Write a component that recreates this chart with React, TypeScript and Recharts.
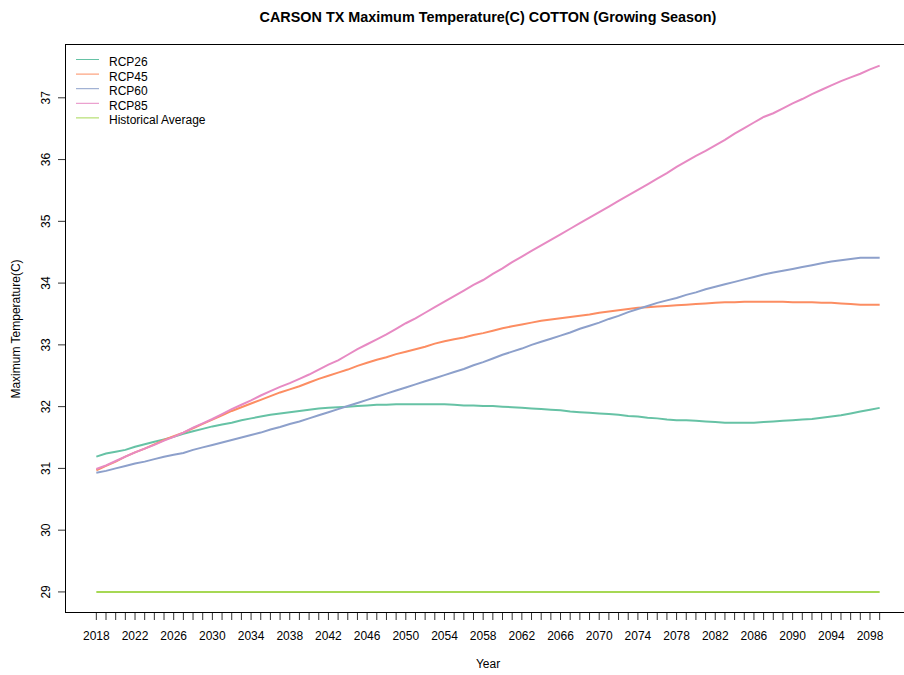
import { LineChart, Line, XAxis, YAxis } from 'recharts'

// growing-season max temperature, annual 2018-2099
const years = Array.from({ length: 82 }, (_, i) => 2018 + i)
const labeledYears = [2018, 2022, 2026, 2030, 2034, 2038, 2042, 2046, 2050, 2054, 2058, 2062, 2066, 2070, 2074, 2078, 2082, 2086, 2090, 2094, 2098]
const yTicks = [29, 30, 31, 32, 33, 34, 35, 36, 37]

const rcp26 = [
  31.19, 31.24, 31.27, 31.3, 31.35, 31.39, 31.43, 31.47, 31.51, 31.56,
  31.6, 31.64, 31.68, 31.71, 31.74, 31.78, 31.81, 31.84, 31.87, 31.89,
  31.91, 31.93, 31.95, 31.97, 31.98, 31.99, 32.0, 32.01, 32.02, 32.03,
  32.03, 32.04, 32.04, 32.04, 32.04, 32.04, 32.04, 32.03, 32.02, 32.02,
  32.01, 32.01, 32.0, 31.99, 31.98, 31.97, 31.96, 31.95, 31.94, 31.92,
  31.91, 31.9, 31.89, 31.88, 31.87, 31.85, 31.84, 31.82, 31.81, 31.79,
  31.78, 31.78, 31.77, 31.76, 31.75, 31.74, 31.74, 31.74, 31.74, 31.75,
  31.76, 31.77, 31.78, 31.79, 31.8, 31.82, 31.84, 31.86, 31.89, 31.92,
  31.95, 31.98,
]
const rcp45 = [
  30.97, 31.04, 31.11, 31.19, 31.26, 31.32, 31.39, 31.46, 31.52, 31.58,
  31.65, 31.72, 31.79, 31.86, 31.93, 31.99, 32.05, 32.11, 32.17, 32.23,
  32.28, 32.33, 32.39, 32.45, 32.5, 32.55, 32.6, 32.66, 32.71, 32.76,
  32.8, 32.85, 32.89, 32.93, 32.97, 33.02, 33.06, 33.09, 33.12, 33.16,
  33.19, 33.23, 33.27, 33.3, 33.33, 33.36, 33.39, 33.41, 33.43, 33.45,
  33.47, 33.49, 33.52, 33.54, 33.56, 33.58, 33.6, 33.61, 33.62, 33.63,
  33.64, 33.65, 33.66, 33.67, 33.68, 33.69, 33.69, 33.7, 33.7, 33.7,
  33.7, 33.7, 33.69, 33.69, 33.69, 33.68, 33.68, 33.67, 33.66, 33.65,
  33.65, 33.65,
]
const rcp60 = [
  30.93, 30.96, 31.0, 31.04, 31.08, 31.11, 31.15, 31.19, 31.22, 31.25,
  31.3, 31.34, 31.38, 31.42, 31.46, 31.5, 31.54, 31.58, 31.63, 31.67,
  31.72, 31.76, 31.81, 31.86, 31.91, 31.96, 32.01, 32.06, 32.11, 32.16,
  32.21, 32.26, 32.31, 32.36, 32.41, 32.46, 32.51, 32.56, 32.61, 32.67,
  32.72, 32.78, 32.84, 32.89, 32.94, 33.0, 33.05, 33.1, 33.15, 33.2,
  33.26, 33.31, 33.36, 33.42, 33.47, 33.53, 33.58, 33.63, 33.68, 33.72,
  33.76, 33.81, 33.85, 33.9, 33.94, 33.98, 34.02, 34.06, 34.1, 34.14,
  34.17, 34.2, 34.23, 34.26, 34.29, 34.32, 34.35, 34.37, 34.39, 34.41,
  34.41, 34.41,
]
const rcp85 = [
  30.99, 31.05, 31.12, 31.19, 31.26, 31.32, 31.38, 31.45, 31.51, 31.58,
  31.66, 31.73, 31.8, 31.88, 31.96, 32.03, 32.1, 32.18, 32.25, 32.32,
  32.38, 32.45, 32.52, 32.6, 32.68, 32.75, 32.84, 32.93, 33.01, 33.09,
  33.17, 33.26, 33.35, 33.43, 33.52, 33.61, 33.7, 33.79, 33.88, 33.97,
  34.05, 34.15, 34.24, 34.34, 34.43, 34.52, 34.61, 34.7, 34.79, 34.88,
  34.97, 35.06, 35.15, 35.24, 35.33, 35.42, 35.51, 35.6, 35.69, 35.78,
  35.88, 35.97, 36.06, 36.14, 36.23, 36.32, 36.42, 36.51, 36.6, 36.69,
  36.75, 36.83, 36.91, 36.98, 37.06, 37.13, 37.2, 37.27, 37.33, 37.39,
  37.46, 37.52,
]
const historical = 29.0

const series = [
  { key: 'rcp26', name: 'RCP26', color: '#66c2a5' },
  { key: 'rcp45', name: 'RCP45', color: '#fc8d62' },
  { key: 'rcp60', name: 'RCP60', color: '#8da0cb' },
  { key: 'rcp85', name: 'RCP85', color: '#e78ac3' },
  { key: 'hist', name: 'Historical Average', color: '#a6d854' },
]

const data = years.map((year, i) => ({
  year,
  rcp26: rcp26[i],
  rcp45: rcp45[i],
  rcp60: rcp60[i],
  rcp85: rcp85[i],
  hist: historical,
}))

const font = '"Liberation Sans", Arial, sans-serif'

function YTick({ y, payload }: any) {
  return (
    <text
      x={50}
      y={y}
      transform={`rotate(-90, 50, ${y})`}
      textAnchor="middle"
      fontSize={12}
      fontFamily={font}
      fill="#000"
    >
      {payload.value}
    </text>
  )
}

export default function App() {
  return (
    <div
      style={{
        position: 'fixed',
        left: 0,
        top: 0,
        width: 904,
        height: 675,
        overflow: 'hidden',
        background: '#fff',
      }}
    >
      <LineChart
        width={920}
        height={675}
        data={data}
        margin={{ top: 44, right: 9, left: 0, bottom: 0 }}
      >
        <XAxis
          dataKey="year"
          type="number"
          domain={[2014.76, 2102.24]}
          allowDataOverflow
          ticks={years}
          interval={0}
          height={62}
          axisLine={false}
          tickSize={7}
          tickMargin={11}
          tickLine={{ stroke: '#333' }}
          tickFormatter={(v: number) => (labeledYears.includes(v) ? String(v) : '')}
          tick={{ fontSize: 12, fontFamily: font, fill: '#000' }}
        />
        <YAxis
          type="number"
          domain={[28.659, 37.871]}
          allowDataOverflow
          ticks={yTicks}
          interval={0}
          width={65}
          axisLine={false}
          tickSize={7}
          tickLine={{ stroke: '#333' }}
          tick={<YTick />}
        />
        {series.map((s) => (
          <Line
            key={s.key}
            type="linear"
            dataKey={s.key}
            name={s.name}
            stroke={s.color}
            strokeWidth={2}
            dot={false}
            isAnimationActive={false}
          />
        ))}
      </LineChart>
      <svg
        width={904}
        height={675}
        style={{ position: 'absolute', left: 0, top: 0, pointerEvents: 'none' }}
      >
        <rect x={65.5} y={44.5} width={846} height={568} fill="none" stroke="#000" strokeWidth={1} />
        <text x={488} y={22} textAnchor="middle" fontSize={14.4} fontWeight="bold" fontFamily={font} fill="#000">
          CARSON TX Maximum Temperature(C) COTTON (Growing Season)
        </text>
        <text x={488} y={668} textAnchor="middle" fontSize={12} fontFamily={font} fill="#000">
          Year
        </text>
        <text
          x={20}
          y={329}
          transform="rotate(-90, 20, 329)"
          textAnchor="middle"
          fontSize={12}
          fontFamily={font}
          fill="#000"
        >
          Maximum Temperature(C)
        </text>
        {series.map((s, i) => (
          <g key={s.key}>
            <line x1={76} x2={99} y1={59.5 + i * 14.6} y2={59.5 + i * 14.6} stroke={s.color} strokeWidth={1} />
            <text x={109} y={66 + i * 14.6} fontSize={12} fontFamily={font} fill="#000">
              {s.name}
            </text>
          </g>
        ))}
      </svg>
    </div>
  )
}
